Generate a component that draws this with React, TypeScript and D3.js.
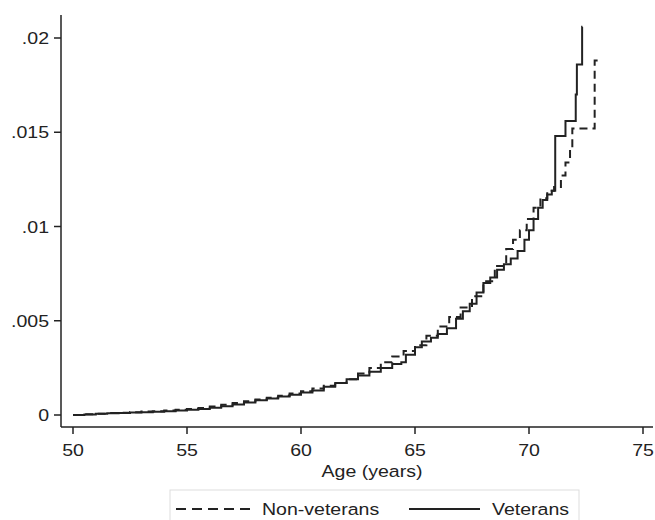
import { useRef, useEffect } from 'react';
import * as d3 from 'd3';

// cumulative incidence, step after each age
const vetAges = [50.0, 50.5, 51.0, 51.5, 52.0, 52.5, 53.0, 53.5, 54.0, 54.5, 55.0, 55.5, 56.0, 56.5, 57.0, 57.5, 58.0, 58.5, 59.0, 59.5, 60.0, 60.5, 61.0, 61.5, 62.0, 62.5, 63.0, 63.5, 64.0, 64.4, 64.6, 65.0, 65.3, 65.7, 66.0, 66.4, 66.8, 67.1, 67.4, 67.7, 68.0, 68.3, 68.6, 68.9, 69.2, 69.5, 69.8, 70.0, 70.2, 70.4, 70.6, 70.8, 71.0, 71.15, 71.6, 72.05, 72.1, 72.33, 72.34];
const vetValues = [0, 0.00003, 0.00006, 0.00009, 0.00011, 0.00013, 0.00015, 0.00017, 0.0002, 0.00024, 0.00028, 0.00032, 0.00038, 0.00046, 0.00056, 0.00066, 0.00078, 0.00088, 0.00098, 0.00108, 0.0012, 0.0013, 0.0015, 0.0017, 0.0019, 0.0021, 0.0023, 0.0025, 0.0027, 0.0028, 0.0032, 0.0036, 0.0039, 0.0041, 0.0043, 0.0046, 0.0051, 0.0055, 0.0059, 0.0065, 0.007, 0.0073, 0.0077, 0.008, 0.0083, 0.0087, 0.0093, 0.0098, 0.0104, 0.011, 0.0114, 0.0117, 0.0119, 0.0148, 0.0156, 0.017, 0.0186, 0.0206, 0.0206];

const nonVetAges = [50.0, 50.5, 51.0, 51.5, 52.0, 52.5, 53.0, 53.5, 54.0, 54.5, 55.0, 55.5, 56.0, 56.5, 57.0, 57.5, 58.0, 58.5, 59.0, 59.5, 60.0, 60.5, 61.0, 61.5, 62.0, 62.5, 63.0, 63.5, 64.0, 64.5, 65.0, 65.5, 66.0, 66.5, 67.0, 67.5, 68.0, 68.5, 69.0, 69.3, 69.6, 69.9, 70.2, 70.5, 70.8, 71.1, 71.4, 71.6, 71.8, 71.9, 72.88, 73.05];
const nonVetValues = [0, 0.00004, 0.00007, 0.0001, 0.00012, 0.00015, 0.00018, 0.0002, 0.00024, 0.00028, 0.00032, 0.00037, 0.00045, 0.00055, 0.00064, 0.00073, 0.00082, 0.00092, 0.00102, 0.00114, 0.00126, 0.0014, 0.00155, 0.0017, 0.0019, 0.0022, 0.0025, 0.0028, 0.0031, 0.0034, 0.0037, 0.0042, 0.0047, 0.0052, 0.0057, 0.0063, 0.0071, 0.0079, 0.0088, 0.0093, 0.0098, 0.0104, 0.011, 0.0115, 0.0119, 0.0121, 0.0127, 0.0134, 0.0142, 0.0152, 0.0188, 0.0188];

const xTicks = [50, 55, 60, 65, 70, 75];
const yTicks = [0, 0.005, 0.01, 0.015, 0.02];
const yTickLabels = ['0', '.005', '.01', '.015', '.02'];

const W = 655;
const H = 520;
const FONT = '"Liberation Sans", Arial, sans-serif';
const STRETCH = 1.15; // the source glyphs are a bit wide

export default function App() {
    const svgRef = useRef<SVGSVGElement>(null);

    useEffect(() => {
        if (!svgRef.current) return;
        const svg = d3.select(svgRef.current);
        svg.selectAll('*').remove();

        const x = d3.scaleLinear().domain([50, 75]).range([73, 643]);
        const y = d3.scaleLinear().domain([0, 0.02]).range([415, 38]);
        const axisY = 427;
        const axisX = 61;
        const ink = '#222';

        const label = (tx: number, ty: number, s: string, anchor: string, dy = '0') =>
            svg.append('text')
                .attr('transform', `translate(${tx},${ty}) scale(${STRETCH},1)`)
                .attr('dy', dy)
                .attr('text-anchor', anchor)
                .style('font-family', FONT)
                .style('font-size', '17px')
                .attr('fill', ink)
                .text(s);

        // axes lines
        svg.append('line')
            .attr('x1', axisX).attr('x2', axisX)
            .attr('y1', 15).attr('y2', axisY)
            .attr('stroke', ink).attr('stroke-width', 1.5);
        svg.append('line')
            .attr('x1', axisX).attr('x2', 653)
            .attr('y1', axisY).attr('y2', axisY)
            .attr('stroke', ink).attr('stroke-width', 1.5);

        // y ticks
        yTicks.forEach((t, i) => {
            svg.append('line')
                .attr('x1', axisX - 7).attr('x2', axisX)
                .attr('y1', y(t)).attr('y2', y(t))
                .attr('stroke', ink).attr('stroke-width', 1.5);
            label(axisX - 12, y(t), yTickLabels[i], 'end', '0.36em');
        });

        // x ticks
        xTicks.forEach(t => {
            svg.append('line')
                .attr('x1', x(t)).attr('x2', x(t))
                .attr('y1', axisY).attr('y2', axisY + 7)
                .attr('stroke', ink).attr('stroke-width', 1.5);
            label(x(t), 456, String(t), 'middle');
        });

        label(372, 477, 'Age (years)', 'middle');

        // curves
        const line = d3.line<[number, number]>()
            .x(d => x(d[0]))
            .y(d => y(d[1]))
            .curve(d3.curveStepAfter);

        const nonVet = nonVetAges.map((a, i) => [a, nonVetValues[i]] as [number, number]);
        const vet = vetAges.map((a, i) => [a, vetValues[i]] as [number, number]);

        svg.append('path')
            .attr('d', line(nonVet) as string)
            .attr('fill', 'none')
            .attr('stroke', ink)
            .attr('stroke-width', 2)
            .attr('stroke-dasharray', '8,5');

        svg.append('path')
            .attr('d', line(vet) as string)
            .attr('fill', 'none')
            .attr('stroke', ink)
            .attr('stroke-width', 2);

        // legend
        svg.append('rect')
            .attr('x', 170).attr('y', 490)
            .attr('width', 409).attr('height', 45)
            .attr('fill', 'white')
            .attr('stroke', '#ddd');
        svg.append('line')
            .attr('x1', 176).attr('x2', 250)
            .attr('y1', 509).attr('y2', 509)
            .attr('stroke', ink).attr('stroke-width', 2)
            .attr('stroke-dasharray', '10,6');
        label(262, 515, 'Non-veterans', 'start');
        svg.append('line')
            .attr('x1', 409).attr('x2', 480)
            .attr('y1', 509).attr('y2', 509)
            .attr('stroke', ink).attr('stroke-width', 2);
        label(492, 515, 'Veterans', 'start');
    }, []);

    return (
        <svg ref={svgRef} width={W} height={H}
            style={{ position: 'absolute', left: 0, top: 0, background: 'white' }} />
    );
}
